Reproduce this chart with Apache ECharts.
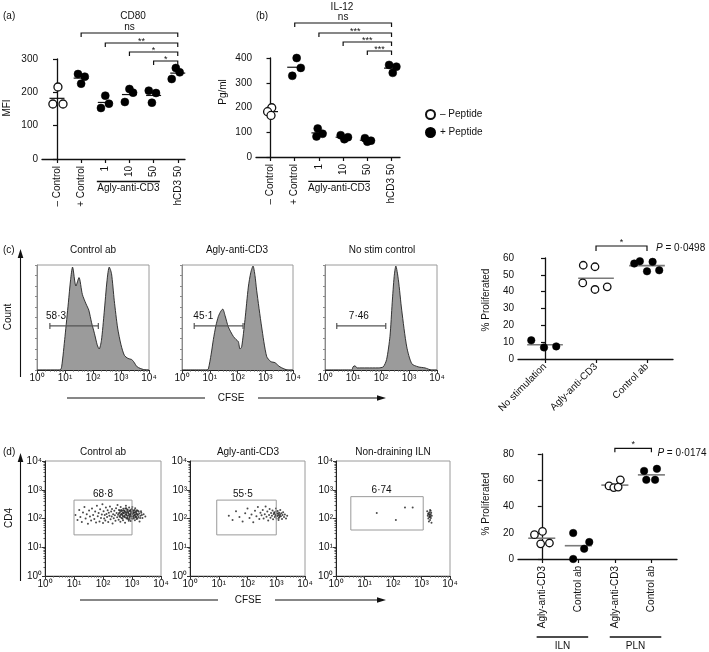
<!DOCTYPE html>
<html><head><meta charset="utf-8">
<script src="https://cdn.jsdelivr.net/npm/echarts@6/dist/echarts.min.js"></script>
<style>html,body{margin:0;padding:0;background:#fff}#c{width:709px;height:652px}</style>
</head><body><div id="c"></div><script>
// ---------------- DATA ----------------
// (a) CD80 MFI
const aCategories = ['– Control', '+ Control', '1', '10', '50', 'hCD3 50'];
const aFilled = [false, true, true, true, true, true];
const aValues = [[216, 165, 165], [255, 247, 226], [190, 153, 166], [210, 199, 171], [205, 198, 169], [273, 260, 240]];
const aJitter = [[0.04, -0.17, 0.25], [-0.13, 0.15, 0.0], [0.0, -0.18, 0.15], [0.0, 0.15, -0.19], [-0.2, 0.1, -0.07], [-0.08, 0.08, -0.25]];
const aBrackets = [[1, 5], [2, 5], [3, 5], [4, 5]];
const aBracketLabels = ['ns', '**', '*', '*'];
// (b) IL-12
const bCategories = ['– Control', '+ Control', '1', '10', '50', 'hCD3 50'];
const bFilled = [false, true, true, true, true, true];
const bValues = [[199, 183, 168], [400, 360, 328], [115, 94, 83], [88, 80, 72], [76, 66, 62], [372, 365, 340]];
const bJitter = [[0.05, -0.12, 0.02], [0.08, 0.25, -0.1], [-0.05, 0.15, -0.1], [-0.1, 0.2, 0.05], [-0.1, 0.15, 0.0], [-0.1, 0.2, 0.05]];
const bBrackets = [[1, 5], [2, 5], [3, 5], [4, 5]];
const bBracketLabels = ['ns', '***', '***', '***'];
const legendNames = ['– Peptide', '+ Peptide'];
// (c) CFSE histograms: [log10 CFSE, % of max count]
const cHistTitles = ['Control ab', 'Agly-anti-CD3', 'No stim control'];
const cHistControl = [[0,0],[0.82,0],[0.88,3],[1.0,32],[1.12,64],[1.2,86],[1.27,98],[1.39,80],[1.5,88],[1.62,72],[1.75,63],[1.85,57],[1.95,45],[2.05,35],[2.15,24],[2.22,20],[2.3,28],[2.4,55],[2.5,85],[2.58,98],[2.66,92],[2.76,66],[2.88,40],[3.0,24],[3.12,14],[3.25,11],[3.38,10],[3.45,8],[3.58,3],[3.8,0.5],[4,0]];
const cHistAgly = [[0,0],[0.9,0],[0.95,1],[1.05,15],[1.13,29],[1.22,42],[1.31,51],[1.4,56],[1.47,58],[1.55,52],[1.67,41],[1.85,32],[1.95,29],[2.03,27],[2.09,20],[2.15,22],[2.27,48],[2.39,79],[2.48,93],[2.56,99],[2.63,90],[2.69,76],[2.87,41],[3.05,13],[3.2,8],[3.35,7],[3.53,3],[3.82,0],[4,0]];
const cHistNoStim = [[0,0],[0.95,0],[1.0,3],[1.07,4],[1.15,2],[1.5,2],[1.9,2],[2.08,3],[2.2,10],[2.32,32],[2.4,64],[2.47,89],[2.53,99],[2.62,86],[2.74,57],[2.92,22],[3.1,6],[3.33,3],[3.57,2],[3.81,0],[4,0]];
const cGates = [[0.46, 2.19, 42], [0.44, 2.2, 42], [0.42, 2.17, 42]];
const cGateLabels = ['58·3', '45·1', '7·46'];
// (c) % proliferated
const cPropCategories = ['No stimulation', 'Agly-anti-CD3', 'Control ab'];
const cPropFilled = [true, false, true];
const cPropValues = [[11.1, 6.9, 7.5], [55.7, 54.8, 45.2, 41.3, 42.9], [56.7, 58.1, 57.7, 52.1, 52.7]];
const cPropJitter = [[-0.27, -0.02, 0.22], [-0.25, -0.02, -0.26, -0.02, 0.22], [-0.25, -0.14, 0.11, 0.0, 0.24]];
const cPropBracket = [[1, 2]];
const cPropBracketLabels = ['*'];
const cPText = '{i|P} = 0·0498';
// (d) CD4 vs CFSE dot plots: [log10 CFSE, log10 CD4]
const dFlowTitles = ['Control ab', 'Agly-anti-CD3', 'Non-draining ILN'];
const dFlowControl = [[1.05,2.12],[1.12,1.95],[1.18,2.3],[1.22,2.05],[1.27,1.88],[1.31,2.21],[1.36,2.4],[1.4,2.0],[1.44,2.15],[1.48,1.82],[1.52,2.28],[1.55,2.07],[1.59,1.93],[1.62,2.35],[1.66,2.12],[1.7,1.98],[1.73,2.24],[1.76,1.86],[1.79,2.44],[1.82,2.08],[1.85,2.19],[1.88,1.9],[1.9,2.32],[1.93,2.02],[1.96,2.14],[1.98,2.5],[2.0,1.84],
[2.02,2.25],[2.04,2.0],[2.06,2.12],[2.08,1.93],[2.1,2.38],[2.12,2.16],[2.14,2.05],[2.16,2.29],[2.18,1.88],[2.2,2.2],[2.22,2.1],[2.24,2.42],[2.26,1.97],[2.28,2.24],[2.3,2.07],[2.31,2.33],[2.33,1.83],[2.35,2.15],[2.37,2.01],[2.39,2.27],[2.41,2.11],[2.43,1.92],[2.45,2.36],[2.47,2.19],[2.49,2.04],[2.5,2.47],
[2.52,2.13],[2.54,1.96],[2.55,2.3],[2.57,2.08],[2.58,2.21],[2.6,1.89],[2.61,2.4],[2.63,2.16],[2.64,2.02],[2.66,2.27],[2.67,2.11],[2.69,1.94],[2.7,2.34],[2.72,2.19],[2.73,2.06],[2.75,2.24],[2.76,1.85],[2.78,2.14],[2.79,2.44],[2.81,2.0],[2.82,2.22],[2.84,2.09],[2.85,2.31],[2.87,1.97],[2.88,2.17],[2.9,2.38],[2.91,2.05],[2.93,2.26],[2.94,2.12],[2.96,1.91],[2.97,2.2],[2.99,2.33],[3.0,2.07],[3.02,2.15],[3.03,1.99],[3.05,2.28],[3.06,2.1],[3.08,2.22],[3.1,1.94],[3.11,2.36],[3.13,2.04],[3.15,2.18],[3.17,2.29],[3.19,2.0],[3.21,2.13],[3.23,2.24],[3.26,1.9],[3.29,2.1],[3.32,2.2],[3.36,2.02],[3.4,2.15],[3.46,2.07],
[2.6,2.12],[2.68,2.2],[2.74,2.1],[2.8,2.16],[2.86,2.24],[2.92,2.14],[2.98,2.08],[3.04,2.19],[3.09,2.12],[3.14,2.25],[2.71,2.28],[2.83,2.03],[2.95,2.3],[3.07,2.02],[2.62,2.25],[2.77,2.35],[2.89,1.92],[3.01,2.4],[3.12,2.08],[3.18,2.12],
[2.55,2.18],[2.59,2.05],[2.63,2.3],[2.65,2.15],[2.69,2.07],[2.71,2.18],[2.74,2.27],[2.76,2.04],[2.78,2.22],[2.81,2.12],[2.83,2.3],[2.85,2.01],[2.87,2.2],[2.89,2.11],[2.91,2.27],[2.93,2.06],[2.95,2.16],[2.97,2.24],[2.99,2.0],[3.01,2.17],[3.03,2.26],[3.05,2.06],[3.07,2.2],[3.09,2.3],[3.11,2.14],[3.13,2.22],[3.15,2.05],[3.17,2.16],[3.2,2.27],[3.22,2.05],[3.25,2.17],[3.28,2.02],[3.31,2.25],[3.34,2.12],[2.67,2.0],[2.8,2.36],[2.92,1.98],[3.0,2.32],[3.16,1.98],[2.58,2.28]];
const dFlowAgly = [[1.35,2.1],[1.48,1.95],[1.6,2.25],[1.72,2.05],[1.83,1.9],[1.92,2.18],[2.0,2.35],[2.07,2.02],[2.14,2.14],[2.2,1.87],[2.26,2.27],[2.31,2.08],[2.36,2.4],[2.41,1.98],[2.45,2.2],[2.49,2.11],[2.53,2.3],[2.56,2.0],[2.6,2.15],[2.63,2.42],[2.66,2.06],[2.69,2.24],[2.72,1.93],[2.75,2.12],[2.77,2.33],[2.8,2.03],[2.82,2.19],[2.85,2.1],[2.87,2.28],[2.89,1.97],[2.91,2.16],[2.93,2.22],[2.95,2.05],[2.97,2.13],[2.99,2.35],[3.01,2.0],[3.02,2.18],[3.04,2.09],[3.05,2.26],[3.07,2.12],[3.08,1.95],[3.1,2.2],[3.11,2.05],[3.13,2.15],[3.14,2.3],[3.16,2.08],[3.18,2.18],[3.2,1.98],[3.22,2.12],[3.24,2.22],[3.27,2.05],[3.3,2.14],[3.34,2.0],[3.38,2.1],[2.98,2.1],[3.06,2.17],[3.12,2.1],[2.94,2.19],[3.0,2.25],[3.09,2.02]];
const dFlowNonDraining = [[1.43,2.19],[2.42,2.38],[2.69,2.38],[2.1,1.95],[3.2,2.25],[3.22,2.1],[3.24,2.0],[3.25,2.18],[3.26,1.9],[3.27,2.05],[3.28,2.22],[3.29,2.12],[3.3,1.95],[3.3,2.3],[3.31,2.08],[3.32,2.15],[3.33,2.02],[3.34,2.2],[3.35,1.85],[3.36,2.1],[3.27,2.14],[3.23,2.16],[3.29,2.05],[3.32,2.27]];
const dGates = [[1.0, 1.43, 3.0, 2.64], [0.93, 1.43, 3.0, 2.64], [0.52, 1.6, 3.06, 2.76]];
const dGateLabels = ['68·8', '55·5', '6·74'];
// (d) % proliferated
const dPropCategories = ['Agly-anti-CD3', 'Control ab', 'Agly-anti-CD3', 'Control ab'];
const dPropGroups = ['ILN', 'PLN'];
const dPropFilled = [false, true, false, true];
const dPropValues = [[18.5, 21, 11.6, 12.2], [19.8, 12.9, 7.8, 0], [55.7, 54.4, 54.8, 60.3], [67.1, 68.7, 60.3, 60.3]];
const dPropJitter = [[-0.2, 0.02, -0.03, 0.21], [-0.14, 0.3, 0.16, -0.14], [-0.16, -0.03, 0.09, 0.15], [-0.2, 0.15, -0.14, 0.1]];
const dPropBracket = [[2, 3]];
const dPropBracketLabels = ['*'];
const dPText = '{i|P} = 0·0174';

// ---------------- LAYOUT / STYLE ----------------
const FONT = '"Liberation Sans", Arial, Helvetica, sans-serif';
const INK = '#111';
const SUP = ['\u2070', '\u00B9', '\u00B2', '\u00B3', '\u2074'];
const decadeLabel = v => '10' + SUP[Math.round(v)];
const MINOR = [];
for (let d = 0; d < 4; d++) for (let k = 2; k <= 9; k++) MINOR.push(d + Math.log10(k));
const layout = {
  aGroupSpan: [[1.65, 4.26]], bGroupSpan: [[1.56, 4.11]], dGroupSpan: [[-0.14, 1.27], [1.86, 3.27]],
  cGateLabelX: [0.68, 0.77, 1.21], dGateLabelX: [2.0, 1.84, 1.6]
};

function catXAxis(gi, labels, min, max, rotate, margin) {
  const idx = labels.map((_, i) => i);
  return { gridIndex: gi, type: 'value', min, max,
    axisLine: { show: true, onZero: false, lineStyle: { color: INK, width: 1.3 } },
    axisTick: { show: true, customValues: idx, length: 4, lineStyle: { color: INK, width: 1.2 } },
    axisLabel: { show: true, customValues: idx, formatter: v => labels[Math.round(v)], rotate, margin, fontFamily: FONT, fontSize: 10, color: INK },
    splitLine: { show: false } };
}
function valYAxis(gi, max, interval) {
  return { gridIndex: gi, type: 'value', min: 0, max, interval,
    axisLine: { show: true, lineStyle: { color: INK, width: 1.3 } },
    axisTick: { show: true, length: 4, lineStyle: { color: INK, width: 1.2 } },
    axisLabel: { margin: 4, fontFamily: FONT, fontSize: 10, color: INK },
    splitLine: { show: false } };
}
function logAxis(gi, dim) {
  return { gridIndex: gi, type: 'value', min: 0, max: 4, interval: 1, position: dim === 'x' ? 'bottom' : 'left',
    axisLine: { show: true, onZero: false, lineStyle: { color: '#222', width: 1 } },
    axisTick: { show: true, length: 3, lineStyle: { color: '#333' } },
    axisLabel: { formatter: decadeLabel, margin: 3, fontFamily: FONT, fontSize: 10, color: INK },
    splitLine: { show: false } };
}
function minorAxis(gi, dim) {
  return { gridIndex: gi, type: 'value', min: 0, max: 4, position: dim === 'x' ? 'bottom' : 'left',
    axisLine: { show: false }, axisLabel: { show: false }, splitLine: { show: false },
    axisTick: { show: true, customValues: MINOR, length: 1.5, lineStyle: { color: '#555' } } };
}
function histYAxis(gi) {
  return { gridIndex: gi, type: 'value', min: 0, max: 100, interval: 10,
    axisLine: { show: true, lineStyle: { color: '#8a8a8a' } },
    axisTick: { show: true, length: 2, lineStyle: { color: '#8a8a8a' } },
    axisLabel: { show: false }, splitLine: { show: false } };
}

function groupPoints(values, jitter, filled, want) {
  const out = [];
  values.forEach((g, i) => { if (filled[i] !== want) return; g.forEach((v, j) => out.push([i + jitter[i][j], v])); });
  return out;
}
const mean = a => a.reduce((s, v) => s + v, 0) / a.length;

function dotSeries(name, xi, yi, data, open, size) {
  return { type: 'scatter', name, xAxisIndex: xi, yAxisIndex: yi, data, symbol: 'circle', symbolSize: size, z: 4,
    itemStyle: open ? { color: '#fff', borderColor: INK, borderWidth: 1.3, opacity: 1 } : { color: '#000', borderColor: '#000', borderWidth: 0.5, opacity: 1 },
    silent: true };
}
function meanSeries(xi, yi, values, halfW, color, width) {
  return { type: 'custom', xAxisIndex: xi, yAxisIndex: yi, clip: false, silent: true, z: 3,
    data: values.map((g, i) => [i, mean(g)]),
    renderItem: (p, api) => {
      const a = api.coord([api.value(0) - halfW, api.value(1)]);
      const b = api.coord([api.value(0) + halfW, api.value(1)]);
      return { type: 'line', shape: { x1: a[0], y1: a[1], x2: b[0], y2: b[1] }, style: { stroke: color, lineWidth: width } };
    } };
}
function bracketSeries(xi, yi, pairs, labels, offsets, o) {
  return { type: 'custom', xAxisIndex: xi, yAxisIndex: yi, clip: false, silent: true, z: 5,
    data: pairs.map(p => [p[0], p[1]]),
    renderItem: (params, api) => {
      const cs = params.coordSys, i = params.dataIndex;
      const x1 = api.coord([api.value(0), 0])[0];
      const x2 = api.coord([api.value(1), 0])[0];
      const y = cs.y - offsets[i];
      const star = labels[i].indexOf('*') >= 0;
      const ch = [
        { type: 'polyline', shape: { points: [[x1, y + o.tick], [x1, y], [x2, y], [x2, y + o.tick]] }, style: { stroke: INK, lineWidth: 1.2, fill: 'none' } },
        { type: 'text', x: (x1 + x2) / 2, y: star ? y + o.starDy : y - 1,
          style: { text: labels[i], fontFamily: FONT, fontSize: star ? 9 : 10, fill: INK, align: 'center', verticalAlign: star ? 'middle' : 'bottom' } }
      ];
      if (o.pText) ch.push({ type: 'text', x: x2 + o.pGap, y: y + o.pDy,
        style: { text: o.pText, fontFamily: FONT, fontSize: 10, fill: INK, align: 'left', verticalAlign: 'middle',
          rich: { i: { fontStyle: 'italic', fontFamily: FONT, fontSize: 10, fill: INK } } } });
      return { type: 'group', children: ch };
    } };
}
function groupLineSeries(xi, yi, spans, labels, lineDy, textDy) {
  return { type: 'custom', xAxisIndex: xi, yAxisIndex: yi, clip: false, silent: true,
    data: spans,
    renderItem: (params, api) => {
      const cs = params.coordSys, i = params.dataIndex;
      const x1 = api.coord([api.value(0), 0])[0], x2 = api.coord([api.value(1), 0])[0];
      const yb = cs.y + cs.height;
      return { type: 'group', children: [
        { type: 'line', shape: { x1, y1: yb + lineDy, x2, y2: yb + lineDy }, style: { stroke: INK, lineWidth: 1.3 } },
        { type: 'text', x: (x1 + x2) / 2, y: yb + textDy, style: { text: labels[i], fontFamily: FONT, fontSize: 10, fill: INK, align: 'center', verticalAlign: 'middle' } }
      ] };
    } };
}
function histGateSeries(k) {
  return { type: 'custom', xAxisIndex: 2 + k, yAxisIndex: 2 + k, clip: false, silent: true, z: 5,
    data: [cGates[k]],
    renderItem: (params, api) => {
      const a = api.coord([api.value(0), api.value(2)]), b = api.coord([api.value(1), api.value(2)]);
      const lx = api.coord([layout.cGateLabelX[k], api.value(2)])[0];
      const st = { stroke: '#555', lineWidth: 1.2 };
      return { type: 'group', children: [
        { type: 'line', shape: { x1: a[0], y1: a[1], x2: b[0], y2: b[1] }, style: st },
        { type: 'line', shape: { x1: a[0], y1: a[1] - 3, x2: a[0], y2: a[1] + 3 }, style: st },
        { type: 'line', shape: { x1: b[0], y1: b[1] - 3, x2: b[0], y2: b[1] + 3 }, style: st },
        { type: 'text', x: lx, y: a[1] - 10, style: { text: cGateLabels[k], fontFamily: FONT, fontSize: 10, fill: INK, align: 'center', verticalAlign: 'middle' } }
      ] };
    } };
}
function flowGateSeries(k) {
  return { type: 'custom', xAxisIndex: 9 + k, yAxisIndex: 6 + k, clip: false, silent: true, z: 5,
    data: [dGates[k]],
    renderItem: (params, api) => {
      const a = api.coord([api.value(0), api.value(1)]), b = api.coord([api.value(2), api.value(3)]);
      const lx = api.coord([layout.dGateLabelX[k], api.value(3)])[0];
      return { type: 'group', children: [
        { type: 'rect', shape: { x: a[0], y: b[1], width: b[0] - a[0], height: a[1] - b[1] }, style: { stroke: '#9a9a9a', lineWidth: 1, fill: 'none' } },
        { type: 'text', x: lx, y: b[1] - 6, style: { text: dGateLabels[k], fontFamily: FONT, fontSize: 10, fill: INK, align: 'center', verticalAlign: 'middle' } }
      ] };
    } };
}

const boxGrid = (left, top, width, height) => ({ left, top, width, height, show: true, borderColor: '#9a9a9a', borderWidth: 1 });
const grids = [
  { left: 42, top: 59, width: 143, height: 100 },
  { left: 256, top: 58, width: 144, height: 99 },
  boxGrid(37, 265, 112, 105), boxGrid(182, 265, 111, 105), boxGrid(325, 265, 112, 105),
  { left: 518, top: 258, width: 155, height: 101 },
  boxGrid(45, 461, 116, 115), boxGrid(190, 461, 115, 115), boxGrid(336, 461, 114, 115),
  { left: 518, top: 454, width: 159, height: 105 }
];
const xAxes = [
  catXAxis(0, aCategories, -0.62, 5.3, 90, 7),
  catXAxis(1, bCategories, -0.6, 5.35, 90, 7),
  logAxis(2, 'x'), logAxis(3, 'x'), logAxis(4, 'x'),
  minorAxis(2, 'x'), minorAxis(3, 'x'), minorAxis(4, 'x'),
  catXAxis(5, cPropCategories, -0.53, 2.51, 45, 6),
  logAxis(6, 'x'), logAxis(7, 'x'), logAxis(8, 'x'),
  minorAxis(6, 'x'), minorAxis(7, 'x'), minorAxis(8, 'x'),
  catXAxis(9, dPropCategories, -0.65, 3.7, 90, 7)
];
const yAxes = [
  valYAxis(0, 300, 100), valYAxis(1, 400, 100),
  histYAxis(2), histYAxis(3), histYAxis(4),
  valYAxis(5, 60, 10),
  logAxis(6, 'y'), logAxis(7, 'y'), logAxis(8, 'y'),
  minorAxis(6, 'y'), minorAxis(7, 'y'), minorAxis(8, 'y'),
  valYAxis(9, 80, 20)
];

const series = [];
// (a)
series.push(meanSeries(0, 0, aValues, 0.31, INK, 1.2));
series.push(dotSeries(legendNames[0], 0, 0, groupPoints(aValues, aJitter, aFilled, false), true, 8));
series.push(dotSeries(legendNames[1], 0, 0, groupPoints(aValues, aJitter, aFilled, true), false, 8));
series.push(bracketSeries(0, 0, aBrackets, aBracketLabels, [26, 16, 7, -2], { tick: 4, starDy: -1.7 }));
series.push(groupLineSeries(0, 0, layout.aGroupSpan, ['Agly-anti-CD3'], 22.5, 29.5));
// (b)
series.push(meanSeries(1, 1, bValues, 0.31, INK, 1.2));
series.push(dotSeries(legendNames[0], 1, 1, groupPoints(bValues, bJitter, bFilled, false), true, 8));
series.push(dotSeries(legendNames[1], 1, 1, groupPoints(bValues, bJitter, bFilled, true), false, 8));
series.push(bracketSeries(1, 1, bBrackets, bBracketLabels, [35, 25, 16, 7], { tick: 4, starDy: -1.7 }));
series.push(groupLineSeries(1, 1, layout.bGroupSpan, ['Agly-anti-CD3'], 24.4, 31.7));
// (c) histograms
[cHistControl, cHistAgly, cHistNoStim].forEach((h, k) => {
  series.push({ type: 'line', xAxisIndex: 2 + k, yAxisIndex: 2 + k, data: h, smooth: 0.25, symbol: 'none', silent: true,
    lineStyle: { color: '#222', width: 0.9 }, areaStyle: { color: '#9b9b9b', opacity: 1 } });
  series.push(histGateSeries(k));
});
// (c) % proliferated
series.push(meanSeries(8, 5, cPropValues, 0.35, '#7a7a7a', 1.6));
series.push(dotSeries('c-open', 8, 5, groupPoints(cPropValues, cPropJitter, cPropFilled, false), true, 7.5));
series.push(dotSeries('c-filled', 8, 5, groupPoints(cPropValues, cPropJitter, cPropFilled, true), false, 7.5));
series.push(bracketSeries(8, 5, cPropBracket, cPropBracketLabels, [12], { tick: 5, starDy: -3.5, pText: cPText, pGap: 9, pDy: 2 }));
// (d) dot plots
[dFlowControl, dFlowAgly, dFlowNonDraining].forEach((f, k) => {
  series.push({ type: 'scatter', xAxisIndex: 9 + k, yAxisIndex: 6 + k, data: f, symbol: 'circle', symbolSize: 2, silent: true,
    itemStyle: { color: '#2a2a2a', opacity: 0.85 } });
  series.push(flowGateSeries(k));
});
// (d) % proliferated
series.push(meanSeries(15, 12, dPropValues, 0.37, '#7a7a7a', 1.6));
series.push(dotSeries('d-open', 15, 12, groupPoints(dPropValues, dPropJitter, dPropFilled, false), true, 7.5));
series.push(dotSeries('d-filled', 15, 12, groupPoints(dPropValues, dPropJitter, dPropFilled, true), false, 7.5));
series.push(bracketSeries(15, 12, dPropBracket, dPropBracketLabels, [5.7], { tick: 4, starDy: -3.5, pText: dPText, pGap: 6, pDy: 4.5 }));
series.push(groupLineSeries(15, 12, layout.dGroupSpan, dPropGroups, 78, 87.5));

// text annotations
const T = (text, x, y, opt) => Object.assign({ type: 'text', x, y, silent: true,
  style: Object.assign({ text, fontFamily: FONT, fontSize: 10, fill: INK, align: 'center', verticalAlign: 'middle' }, (opt && opt.style) || {}) },
  opt && opt.rotation ? { rotation: opt.rotation } : {});
const R = Math.PI / 2;
const L = (x1, y1, x2, y2) => ({ type: 'line', silent: true, shape: { x1, y1, x2, y2 }, style: { stroke: INK, lineWidth: 1.1 } });
const P = pts => ({ type: 'polygon', silent: true, shape: { points: pts }, style: { fill: INK } });
const graphics = [
  T('(a)', 3, 16, { style: { align: 'left' } }), T('CD80', 133, 16), T('(b)', 262, 16), T('IL-12', 342, 7),
  T('MFI', 7, 108, { rotation: R }), T('Pg/ml', 223, 92, { rotation: R }),
  T('(c)', 3, 250, { style: { align: 'left' } }),
  T(cHistTitles[0], 93, 250), T(cHistTitles[1], 237, 250), T(cHistTitles[2], 382, 250),
  T('Count', 8, 317, { rotation: R }),
  L(20.5, 377, 20.5, 256), P([[20.5, 249], [17.7, 258], [23.3, 258]]),
  L(67, 398, 205, 398), T('CFSE', 231, 398), L(258, 398, 378, 398), P([[386, 398], [377, 395.2], [377, 400.8]]),
  T('% Proliferated', 486, 300, { rotation: R }),
  T('(d)', 3, 452, { style: { align: 'left' } }),
  T(dFlowTitles[0], 103, 452), T(dFlowTitles[1], 248, 452), T(dFlowTitles[2], 393, 452),
  T('CD4', 9, 518, { rotation: R }),
  L(20.5, 581, 20.5, 460), P([[20.5, 453], [17.7, 462], [23.3, 462]]),
  L(80, 600, 218, 600), T('CFSE', 248, 600), L(275, 600, 378, 600), P([[386, 600], [377, 597.2], [377, 602.8]]),
  T('% Proliferated', 486, 504, { rotation: R })
];

const chart = echarts.init(document.getElementById('c'), null, { renderer: 'canvas' });
chart.setOption({
  animation: false,
  backgroundColor: '#fff',
  textStyle: { fontFamily: FONT },
  legend: { data: legendNames, orient: 'vertical', left: 420, top: 104, itemWidth: 9, itemHeight: 9, itemGap: 7,
    selectedMode: false, textStyle: { fontFamily: FONT, fontSize: 10, color: INK } },
  grid: grids, xAxis: xAxes, yAxis: yAxes, series, graphic: graphics
});
</script></body></html>
